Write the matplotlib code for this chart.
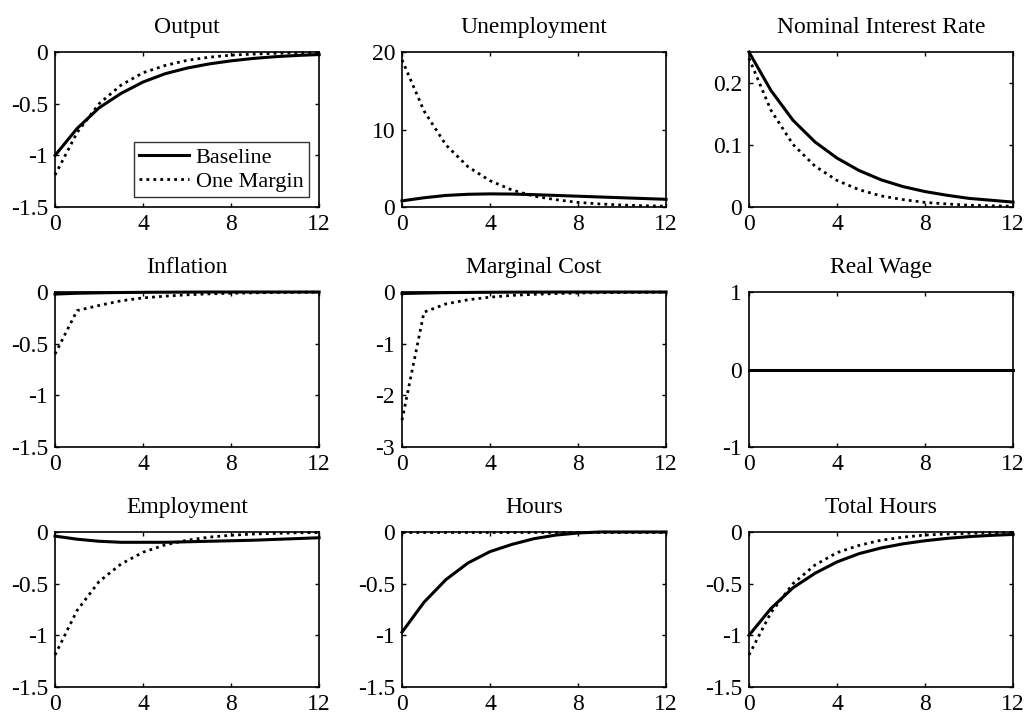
#!/usr/bin/env python3
"""Impulse responses: baseline vs one-margin model."""
import matplotlib
matplotlib.use('Agg')
import matplotlib.pyplot as plt
import numpy as np

plt.rcParams['font.family'] = ['Liberation Serif', 'DejaVu Serif']
plt.rcParams['axes.unicode_minus'] = False

periods = np.arange(13)

titles = ['Output', 'Unemployment', 'Nominal Interest Rate',
          'Inflation', 'Marginal Cost', 'Real Wage',
          'Employment', 'Hours', 'Total Hours']

# baseline responses
output_base = [-1.0, -0.74, -0.54, -0.40, -0.29, -0.21, -0.155, -0.115, -0.085, -0.062, -0.045, -0.033, -0.024]
unemp_base = [0.8, 1.2, 1.5, 1.65, 1.7, 1.68, 1.6, 1.5, 1.4, 1.3, 1.2, 1.1, 1.0]
rate_base = [0.25, 0.188, 0.14, 0.105, 0.079, 0.059, 0.044, 0.033, 0.025, 0.019, 0.014, 0.011, 0.008]
infl_base = [-0.02, -0.012, -0.008, -0.005, -0.003, -0.002, -0.001, 0, 0, 0, 0, 0, 0]
mc_base = [-0.03, -0.02, -0.012, -0.008, -0.005, -0.003, -0.002, -0.001, 0, 0, 0, 0, 0]
wage_base = [0] * 13
emp_base = [-0.04, -0.07, -0.09, -0.1, -0.1, -0.1, -0.095, -0.09, -0.085, -0.08, -0.072, -0.064, -0.056]
hours_base = [-0.97, -0.68, -0.46, -0.30, -0.19, -0.12, -0.065, -0.03, -0.01, 0, 0, 0, 0]
total_base = [-1.0, -0.74, -0.54, -0.40, -0.29, -0.21, -0.155, -0.115, -0.085, -0.062, -0.045, -0.033, -0.024]

# one-margin responses
output_om = [-1.19, -0.78, -0.50, -0.32, -0.20, -0.13, -0.08, -0.05, -0.03, -0.02, -0.012, -0.008, -0.005]
unemp_om = [19.0, 12.4, 8.0, 5.2, 3.4, 2.2, 1.4, 0.95, 0.6, 0.4, 0.26, 0.17, 0.11]
rate_om = [0.24, 0.156, 0.101, 0.066, 0.043, 0.028, 0.018, 0.012, 0.0075, 0.005, 0.003, 0.002, 0.0013]
infl_om = [-0.6, -0.18, -0.13, -0.085, -0.057, -0.04, -0.027, -0.018, -0.012, -0.008, -0.005, -0.003, -0.002]
mc_om = [-2.48, -0.39, -0.23, -0.15, -0.10, -0.065, -0.045, -0.03, -0.02, -0.013, -0.009, -0.006, -0.004]
wage_om = [0] * 13
emp_om = [-1.19, -0.76, -0.48, -0.31, -0.196, -0.125, -0.08, -0.05, -0.032, -0.02, -0.013, -0.008, -0.005]
hours_om = [0] * 13
total_om = [-1.19, -0.78, -0.50, -0.32, -0.20, -0.13, -0.08, -0.05, -0.03, -0.02, -0.012, -0.008, -0.005]

baseline = [output_base, unemp_base, rate_base, infl_base, mc_base, wage_base,
            emp_base, hours_base, total_base]
one_margin = [output_om, unemp_om, rate_om, infl_om, mc_om, wage_om,
              emp_om, hours_om, total_om]

ylims = [(-1.5, 0), (0, 20), (0, 0.25), (-1.5, 0), (-3, 0), (-1, 1),
         (-1.5, 0), (-1.5, 0), (-1.5, 0)]
yticks = [[-1.5, -1, -0.5, 0], [0, 10, 20], [0, 0.1, 0.2],
          [-1.5, -1, -0.5, 0], [-3, -2, -1, 0], [-1, 0, 1],
          [-1.5, -1, -0.5, 0], [-1.5, -1, -0.5, 0], [-1.5, -1, -0.5, 0]]
ylabels = [['-1.5', '-1', '-0.5', '0'], ['0', '10', '20'], ['0', '0.1', '0.2'],
           ['-1.5', '-1', '-0.5', '0'], ['-3', '-2', '-1', '0'], ['-1', '0', '1'],
           ['-1.5', '-1', '-0.5', '0'], ['-1.5', '-1', '-0.5', '0'], ['-1.5', '-1', '-0.5', '0']]

fig, axes = plt.subplots(3, 3, figsize=(10.27, 7.13), dpi=100)
fig.subplots_adjust(left=0.0536, right=0.9864, bottom=0.0365, top=0.927,
                    wspace=0.314, hspace=0.548)

fs = 17
for i, ax in enumerate(axes.flat):
    ax.plot(periods, baseline[i], 'k-', lw=2.2, label='Baseline', clip_on=False, zorder=3)
    ax.plot(periods, one_margin[i], color='k', ls=(0, (1, 1.5)), lw=2.0,
            label='One Margin', clip_on=False, zorder=3)
    ax.set_xlim(0, 12)
    ax.set_ylim(*ylims[i])
    ax.set_xticks([0, 4, 8, 12])
    ax.set_xticklabels(['0', '4', '8', '12'], fontsize=fs)
    ax.set_yticks(yticks[i])
    ax.set_yticklabels(ylabels[i], fontsize=fs)
    ax.tick_params(direction='in', top=True, right=True, length=3, width=1, pad=5)
    for s in ax.spines.values():
        s.set_linewidth(1.2)
    ax.set_title(titles[i], fontsize=fs, pad=13.5)

leg = axes[0, 0].legend(loc='lower right', fontsize=16, frameon=True, fancybox=False,
                        handlelength=2.25, borderpad=0.25, labelspacing=0.15,
                        handletextpad=0.3, borderaxespad=0.45)
leg.get_frame().set_edgecolor('k')
leg.get_frame().set_linewidth(1.0)

fig.savefig('out.png', dpi=100)
